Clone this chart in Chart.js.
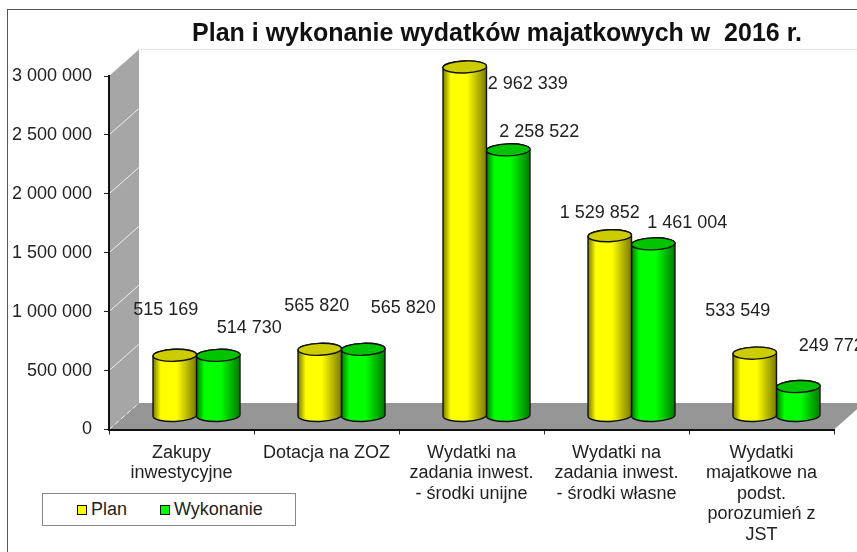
<!DOCTYPE html>
<html>
<head>
<meta charset="utf-8">
<script src="https://cdn.jsdelivr.net/npm/chart.js@4"></script>
<style>
  html, body { margin: 0; padding: 0; background: #fff; overflow: hidden; }
  body { width: 857px; height: 552px; position: relative; font-family: "Liberation Sans", sans-serif; color: #222; }
  canvas { position: absolute; left: 0; top: 0; }
  #frame { position: absolute; left: 7px; top: 9px; right: 0; bottom: 0; border-left: 1px solid #555; border-top: 1px solid #555; }
  #title { position: absolute; left: 0; width: 994px; top: 18px; text-align: center; font: bold 25px "Liberation Sans", sans-serif; color: #111; white-space: pre; }
  #legend { position: absolute; left: 42px; top: 493px; width: 252px; height: 31px; border: 1px solid #888; background: #fff; font-size: 18px; }
  #legend span { position: absolute; top: 5px; }
  #legend i { position: absolute; top: 11px; width: 8px; height: 8px; border: 1px solid #111; }
</style>
</head>
<body>
<div id="frame"></div>
<canvas id="chart" width="857" height="552"></canvas>
<div id="title">Plan i wykonanie wydatków majatkowych w  2016 r.</div>
<div id="legend"></div>
<script>
const categories = [
  ["Zakupy", "inwestycyjne"],
  "Dotacja na ZOZ",
  ["Wydatki na", "zadania inwest.", "- środki unijne"],
  ["Wydatki na", "zadania inwest.", "- środki własne"],
  ["Wydatki", "majatkowe na", "podst.", "porozumień z", "JST"]
];
const plan = [515169, 565820, 2962339, 1529852, 533549];
const wykonanie = [514730, 565820, 2258522, 1461004, 249772];

// label position relative to the top of its cylinder (excel moved them by hand)
const planShift = [[-9, -45], [-3, -43], [63, 17], [-10, -23], [-17, -42]];
const wykonanieShift = [[31, -27], [40, -41], [31, -18], [34, -21], [33, -41]];

const depthX = 15, depthY = -13.5, wallX = 30, wallY = -26.5;

function spaced(v) {
  return String(v).replace(/\B(?=(\d{3})+$)/g, " ");
}

function cylinder(ctx, x, top, base, w, c) {
  const rx = w / 2, ry = 6, tilt = -0.035;
  const g = ctx.createLinearGradient(x - rx, 0, x + rx, 0);
  g.addColorStop(0, c.dark);
  g.addColorStop(0.18, c.main);
  g.addColorStop(0.55, c.main);
  g.addColorStop(1, c.dark);
  ctx.beginPath();
  ctx.ellipse(x, base, rx, ry, tilt, Math.PI, 0, true);
  ctx.ellipse(x, top, rx, ry, tilt, 0, Math.PI, true);
  ctx.closePath();
  ctx.fillStyle = g;
  ctx.fill();
  ctx.strokeStyle = "#111";
  ctx.lineWidth = 1.4;
  ctx.stroke();
  ctx.beginPath();
  ctx.ellipse(x, top, rx, ry, tilt, 0, Math.PI * 2);
  ctx.fillStyle = c.lid;
  ctx.fill();
  ctx.stroke();
}

const walls = {
  id: "walls",
  beforeDraw(chart) {
    const ctx = chart.ctx, a = chart.chartArea, y = chart.scales.y;
    ctx.save();
    // side wall
    ctx.fillStyle = "#a6a6a6";
    ctx.beginPath();
    ctx.moveTo(a.left, a.top);
    ctx.lineTo(a.left + wallX, a.top + wallY);
    ctx.lineTo(a.left + wallX, a.bottom + wallY);
    ctx.lineTo(a.left, a.bottom);
    ctx.closePath();
    ctx.fill();
    // floor
    ctx.fillStyle = "#969696";
    ctx.beginPath();
    ctx.moveTo(a.left, a.bottom);
    ctx.lineTo(a.left + wallX, a.bottom + wallY);
    ctx.lineTo(a.right + wallX, a.bottom + wallY);
    ctx.lineTo(a.right, a.bottom);
    ctx.closePath();
    ctx.fill();
    // gridlines on the side wall
    ctx.strokeStyle = "#eee";
    ctx.lineWidth = 1;
    y.ticks.forEach((t, i) => {
      if (i === y.ticks.length - 1) return;
      const py = y.getPixelForTick(i);
      ctx.setLineDash(t.value === 0 ? [5, 3] : []);
      ctx.beginPath();
      ctx.moveTo(a.left, py);
      ctx.lineTo(a.left + wallX, py + wallY);
      ctx.stroke();
    });
    ctx.setLineDash([]);
    ctx.strokeStyle = "#e4e4e4";
    ctx.beginPath();
    ctx.moveTo(a.left + wallX, a.top + wallY);
    ctx.lineTo(857, a.top + wallY);
    ctx.stroke();
    ctx.restore();
  },
  beforeDatasetDraw(chart, args) {
    const ctx = chart.ctx, ds = chart.data.datasets[args.index];
    ctx.save();
    args.meta.data.forEach(bar => {
      cylinder(ctx, bar.x + depthX, bar.y + depthY, bar.base + depthY, bar.width, ds.cyl);
    });
    ctx.restore();
    return false;
  },
  afterDatasetsDraw(chart) {
    const ctx = chart.ctx;
    ctx.save();
    ctx.font = '18px "Liberation Sans", sans-serif';
    ctx.fillStyle = "#222";
    ctx.textAlign = "center";
    ctx.textBaseline = "middle";
    chart.data.datasets.forEach((ds, i) => {
      chart.getDatasetMeta(i).data.forEach((bar, j) => {
        ctx.fillText(spaced(ds.data[j]), bar.x + depthX + ds.shift[j][0], bar.y + depthY + ds.shift[j][1]);
      });
    });
    ctx.restore();
  }
};

const chart = new Chart(document.getElementById("chart").getContext("2d"), {
  type: "bar",
  data: {
    labels: categories,
    datasets: [
      { label: "Plan", data: plan, backgroundColor: "#ffff00", shift: planShift,
        cyl: { main: "#ffff00", dark: "#7a7a00", lid: "#cccc00" } },
      { label: "Wykonanie", data: wykonanie, backgroundColor: "#00ff00", shift: wykonanieShift,
        cyl: { main: "#00ff00", dark: "#007a00", lid: "#00c400" } }
    ]
  },
  plugins: [walls],
  options: {
    responsive: false,
    animation: false,
    layout: { padding: { left: 0, right: 23, top: 76, bottom: 0 } },
    plugins: { legend: { display: false }, title: { display: false }, tooltip: { enabled: false } },
    datasets: { bar: { categoryPercentage: 0.6, barPercentage: 1 } },
    font: { family: '"Liberation Sans", sans-serif' },
    scales: {
      x: {
        afterFit: s => { s.height = 122.5; },
        grid: { drawOnChartArea: false, color: "#333", tickLength: 5, offset: true },
        border: { color: "#111", width: 2 },
        ticks: {
          color: "#222", maxRotation: 0, autoSkip: false, padding: 8,
          font: { family: '"Liberation Sans", sans-serif', size: 18, lineHeight: 1.14 }
        }
      },
      y: {
        min: 0, max: 3000000,
        afterFit: s => { s.width = 109; },
        grid: { drawOnChartArea: false, color: "#222", tickLength: 5 },
        border: { color: "#111", width: 2 },
        ticks: {
          stepSize: 500000, color: "#222", padding: 12,
          font: { family: '"Liberation Sans", sans-serif', size: 18 },
          callback: v => spaced(v)
        }
      }
    }
  }
});

// legend sits bottom-left over the page, same as the original
const legendX = [[34, 48], [117, 131]];
const legend = document.getElementById("legend");
chart.data.datasets.forEach((ds, i) => {
  const box = document.createElement("i");
  box.style.left = legendX[i][0] + "px";
  box.style.background = ds.backgroundColor;
  const text = document.createElement("span");
  text.style.left = legendX[i][1] + "px";
  text.textContent = ds.label;
  legend.append(box, text);
});
</script>
</body>
</html>
